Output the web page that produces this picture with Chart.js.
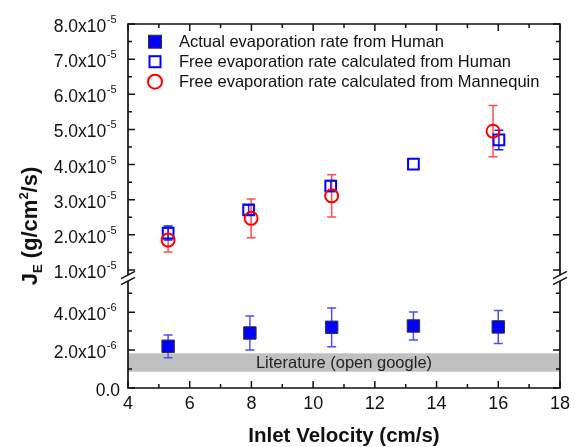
<!DOCTYPE html>
<html>
<head>
<meta charset="utf-8">
<script src="https://cdn.jsdelivr.net/npm/chart.js@4/dist/chart.umd.min.js"></script>
<style>
  html, body { margin: 0; padding: 0; background: #fff; }
  #wrap { width: 575px; height: 447px; }
</style>
</head>
<body>
<div id="wrap"><canvas id="evapChart"></canvas></div>
<script>
// inlet velocity (cm/s) and rates (g/cm2/s)
const velActual = [5.3, 7.95, 10.6, 13.25, 16.0];
const rateActual = [2.2e-6, 2.9e-6, 3.2e-6, 3.27e-6, 3.22e-6];
const errActual = [0.6e-6, 0.9e-6, 1.02e-6, 0.74e-6, 0.87e-6];

const velFreeHuman = [5.3, 7.91, 10.57, 13.25, 16.02];
const rateFreeHuman = [2.05e-5, 2.71e-5, 3.39e-5, 4.01e-5, 4.7e-5];
const errFreeHuman = [0.2e-5, 0.14e-5, 0.16e-5, 0, 0.28e-5];

const velMannequin = [5.3, 7.99, 10.6, 15.83];
const rateMannequin = [1.85e-5, 2.47e-5, 3.11e-5, 4.95e-5];
const errMannequin = [0.34e-5, 0.55e-5, 0.6e-5, 0.73e-5];

const literatureBand = [0.86e-6, 1.83e-6];
const literatureText = "Literature (open google)";

const seriesNames = [
    "Actual evaporation rate from Human",
    "Free evaporation rate calculated from Human",
    "Free evaporation rate calculated from Mannequin"
];

// tick labels ("base^sup")
const upperTickValues = [1e-5, 2e-5, 3e-5, 4e-5, 5e-5, 6e-5, 7e-5, 8e-5];
const upperTickLabels = ["1.0x10^-5", "2.0x10^-5", "3.0x10^-5", "4.0x10^-5",
                         "5.0x10^-5", "6.0x10^-5", "7.0x10^-5", "8.0x10^-5"];
const lowerTickValues = [0, 2e-6, 4e-6];
const lowerTickLabels = ["0.0", "2.0x10^-6", "4.0x10^-6"];

const FONT = "'Liberation Sans', Arial, sans-serif";
const INK = "#111";

function toPoints(xs, ys) {
    return xs.map((x, i) => ({ x: x, y: ys[i] }));
}

// error bars + literature band, under the markers
const underlayPlugin = {
    id: "underlay",
    beforeDatasetsDraw(chart) {
        const ctx = chart.ctx;
        const xs = chart.scales.x;
        const yLow = chart.scales.yLow;
        const area = chart.chartArea;

        // literature band
        const bTop = yLow.getPixelForValue(literatureBand[1]);
        const bBot = yLow.getPixelForValue(literatureBand[0]);
        ctx.save();
        ctx.fillStyle = "#c0c0c0";
        ctx.fillRect(area.left, bTop, area.right - area.left, bBot - bTop);
        ctx.fillStyle = "#222";
        ctx.font = "16.5px " + FONT;
        ctx.textAlign = "center";
        ctx.textBaseline = "middle";
        ctx.fillText(literatureText, xs.getPixelForValue(11), (bTop + bBot) / 2 + 1);
        ctx.restore();

        // error bars
        chart.data.datasets.forEach((ds) => {
            const ys = chart.scales[ds.yAxisID];
            ctx.save();
            ctx.strokeStyle = ds.errColor;
            ctx.lineWidth = 1.5;
            ds.data.forEach((p, i) => {
                const e = ds.errors[i];
                if (!e) return;
                const px = xs.getPixelForValue(p.x);
                const t = ys.getPixelForValue(p.y + e);
                const b = ys.getPixelForValue(p.y - e);
                ctx.beginPath();
                ctx.moveTo(px, t); ctx.lineTo(px, b);
                ctx.moveTo(px - 4.5, t); ctx.lineTo(px + 4.5, t);
                ctx.moveTo(px - 4.5, b); ctx.lineTo(px + 4.5, b);
                ctx.stroke();
            });
            ctx.restore();
        });
    }
};

function drawSupLabel(ctx, label, right, py) {
    const parts = label.split("^");
    ctx.font = "17.5px " + FONT;
    const wb = ctx.measureText(parts[0]).width;
    let ws = 0;
    if (parts[1]) {
        ctx.font = "11px " + FONT;
        ws = ctx.measureText(parts[1]).width;
    }
    const x0 = right - ws - wb;
    ctx.font = "17.5px " + FONT;
    ctx.fillText(parts[0], x0, py + 8);
    if (parts[1]) {
        ctx.font = "11px " + FONT;
        ctx.fillText(parts[1], x0 + wb + 0.5, py - 1);
    }
}

// frame, inward ticks, axis break, y labels, y title, legend
const framePlugin = {
    id: "frame",
    afterDraw(chart) {
        const ctx = chart.ctx;
        const a = chart.chartArea;
        const xs = chart.scales.x;
        const yTop = chart.scales.yTop;
        const yLow = chart.scales.yLow;
        const brk = yTop.bottom;

        ctx.save();
        ctx.strokeStyle = INK;
        ctx.lineWidth = 1.7;
        ctx.lineCap = "butt";

        // box with broken verticals
        ctx.beginPath();
        ctx.moveTo(a.left, a.top); ctx.lineTo(a.right, a.top);
        ctx.moveTo(a.left, a.bottom); ctx.lineTo(a.right, a.bottom);
        [a.left, a.right].forEach((x) => {
            ctx.moveTo(x, a.top - 0.8); ctx.lineTo(x, brk - 3);
            ctx.moveTo(x, brk + 3); ctx.lineTo(x, a.bottom + 0.8);
        });
        ctx.stroke();

        // break marks
        ctx.lineWidth = 1.5;
        ctx.beginPath();
        [a.left, a.right].forEach((x) => {
            [-3, 3].forEach((s) => {
                ctx.moveTo(x - 7, brk + s + 3.6);
                ctx.lineTo(x + 7, brk + s - 3.6);
            });
        });
        ctx.stroke();

        // inward ticks
        ctx.lineWidth = 1.5;
        ctx.beginPath();
        for (let v = 4; v <= 18; v++) {
            const px = xs.getPixelForValue(v);
            const len = v % 2 === 0 ? 7 : 4;
            ctx.moveTo(px, a.bottom); ctx.lineTo(px, a.bottom - len);
            ctx.moveTo(px, a.top); ctx.lineTo(px, a.top + len);
        }
        const yTicks = [];
        for (let k = 2; k <= 16; k++) yTicks.push([yTop, k * 0.5e-5, k % 2 === 0]);
        for (let k = 0; k <= 5; k++) yTicks.push([yLow, k * 1e-6, k % 2 === 0]);
        yTicks.forEach(([s, v, major]) => {
            const py = s.getPixelForValue(v);
            const len = major ? 7 : 4;
            ctx.moveTo(a.left, py); ctx.lineTo(a.left + len, py);
            ctx.moveTo(a.right, py); ctx.lineTo(a.right - len, py);
        });
        ctx.stroke();

        // y tick labels
        ctx.fillStyle = INK;
        ctx.textAlign = "left";
        ctx.textBaseline = "alphabetic";
        upperTickValues.forEach((v, i) => {
            drawSupLabel(ctx, upperTickLabels[i], 116, yTop.getPixelForValue(v));
        });
        lowerTickValues.forEach((v, i) => {
            const right = lowerTickLabels[i].indexOf("^") < 0 ? 120 : 116;
            drawSupLabel(ctx, lowerTickLabels[i], right, yLow.getPixelForValue(v));
        });

        // y title: J_E (g/cm^2/s)
        const segs = [
            ["J", 22, 0], ["E", 13, 5], [" (g/cm", 22, 0], ["2", 13, -9], ["/s)", 22, 0]
        ];
        ctx.translate(29, (a.top + a.bottom) / 2 + 20);
        ctx.rotate(-Math.PI / 2);
        let total = 0;
        segs.forEach((s) => {
            ctx.font = "bold " + s[1] + "px " + FONT;
            s.push(ctx.measureText(s[0]).width);
            total += s[3];
        });
        let cx = -total / 2;
        segs.forEach((s) => {
            ctx.font = "bold " + s[1] + "px " + FONT;
            ctx.fillText(s[0], cx, 8 + s[2]);
            cx += s[3];
        });
        ctx.setTransform(1, 0, 0, 1, 0, 0);

        // legend
        const lx = 155, ly = [41.7, 61.7, 81.7];
        ctx.fillStyle = "#0000ff";
        ctx.strokeStyle = "#333";
        ctx.lineWidth = 1;
        ctx.fillRect(lx - 6.5, ly[0] - 6.5, 13, 13);
        ctx.strokeRect(lx - 6.5, ly[0] - 6.5, 13, 13);
        ctx.strokeStyle = "#0000ff";
        ctx.lineWidth = 2;
        ctx.strokeRect(lx - 5.5, ly[1] - 5.5, 11, 11);
        ctx.strokeStyle = "#ff0000";
        ctx.beginPath();
        ctx.arc(lx, ly[2], 7, 0, Math.PI * 2);
        ctx.stroke();
        ctx.fillStyle = INK;
        ctx.font = "16.5px " + FONT;
        ctx.textBaseline = "middle";
        seriesNames.forEach((n, i) => ctx.fillText(n, 179, ly[i] + 1));
        ctx.restore();
    }
};

const chart = new Chart(document.getElementById("evapChart"), {
    type: "scatter",
    data: {
        datasets: [
            {
                label: seriesNames[2],
                data: toPoints(velMannequin, rateMannequin),
                errors: errMannequin,
                errColor: "#ff4d4d",
                yAxisID: "yTop",
                order: 0,
                pointStyle: "circle",
                pointRadius: 6.5,
                backgroundColor: "rgba(0,0,0,0)",
                borderColor: "#ff0000",
                borderWidth: 2
            },
            {
                label: seriesNames[1],
                data: toPoints(velFreeHuman, rateFreeHuman),
                errors: errFreeHuman,
                errColor: "#1a1aff",
                yAxisID: "yTop",
                order: 1,
                pointStyle: "rect",
                pointRadius: 7.6,
                backgroundColor: "rgba(0,0,0,0)",
                borderColor: "#0000ff",
                borderWidth: 2
            },
            {
                label: seriesNames[0],
                data: toPoints(velActual, rateActual),
                errors: errActual,
                errColor: "#4d4dff",
                yAxisID: "yLow",
                order: 2,
                pointStyle: "rect",
                pointRadius: 8.8,
                backgroundColor: "#0000ff",
                borderColor: "#333",
                borderWidth: 1
            }
        ]
    },
    options: {
        responsive: true,
        maintainAspectRatio: false,
        animation: false,
        events: [],
        layout: {
            padding: { top: 24, right: 10, left: 0, bottom: 0 }
        },
        plugins: {
            legend: { display: false },
            tooltip: { enabled: false }
        },
        scales: {
            x: {
                type: "linear",
                min: 4,
                max: 18,
                grid: { display: false, drawTicks: false },
                border: { display: false },
                ticks: {
                    stepSize: 2,
                    padding: 5,
                    color: INK,
                    font: { family: FONT, size: 18 }
                },
                title: {
                    display: true,
                    text: "Inlet Velocity (cm/s)",
                    color: INK,
                    padding: { top: 0, bottom: 0 },
                    font: { family: FONT, size: 20.5, weight: "bold", lineHeight: 1 }
                },
                afterFit(scale) { scale.height = 59; }
            },
            yLow: {
                type: "linear",
                position: "left",
                stack: "y",
                stackWeight: 110,
                min: 0,
                max: 5.8e-6,
                grid: { display: false },
                border: { display: false },
                ticks: { display: false },
                afterFit(scale) { scale.width = 128; }
            },
            yTop: {
                type: "linear",
                position: "left",
                stack: "y",
                stackWeight: 254,
                min: 0.772e-5,
                max: 8e-5,
                grid: { display: false },
                border: { display: false },
                ticks: { display: false },
                afterFit(scale) { scale.width = 128; }
            }
        }
    },
    plugins: [underlayPlugin, framePlugin]
});
</script>
</body>
</html>
